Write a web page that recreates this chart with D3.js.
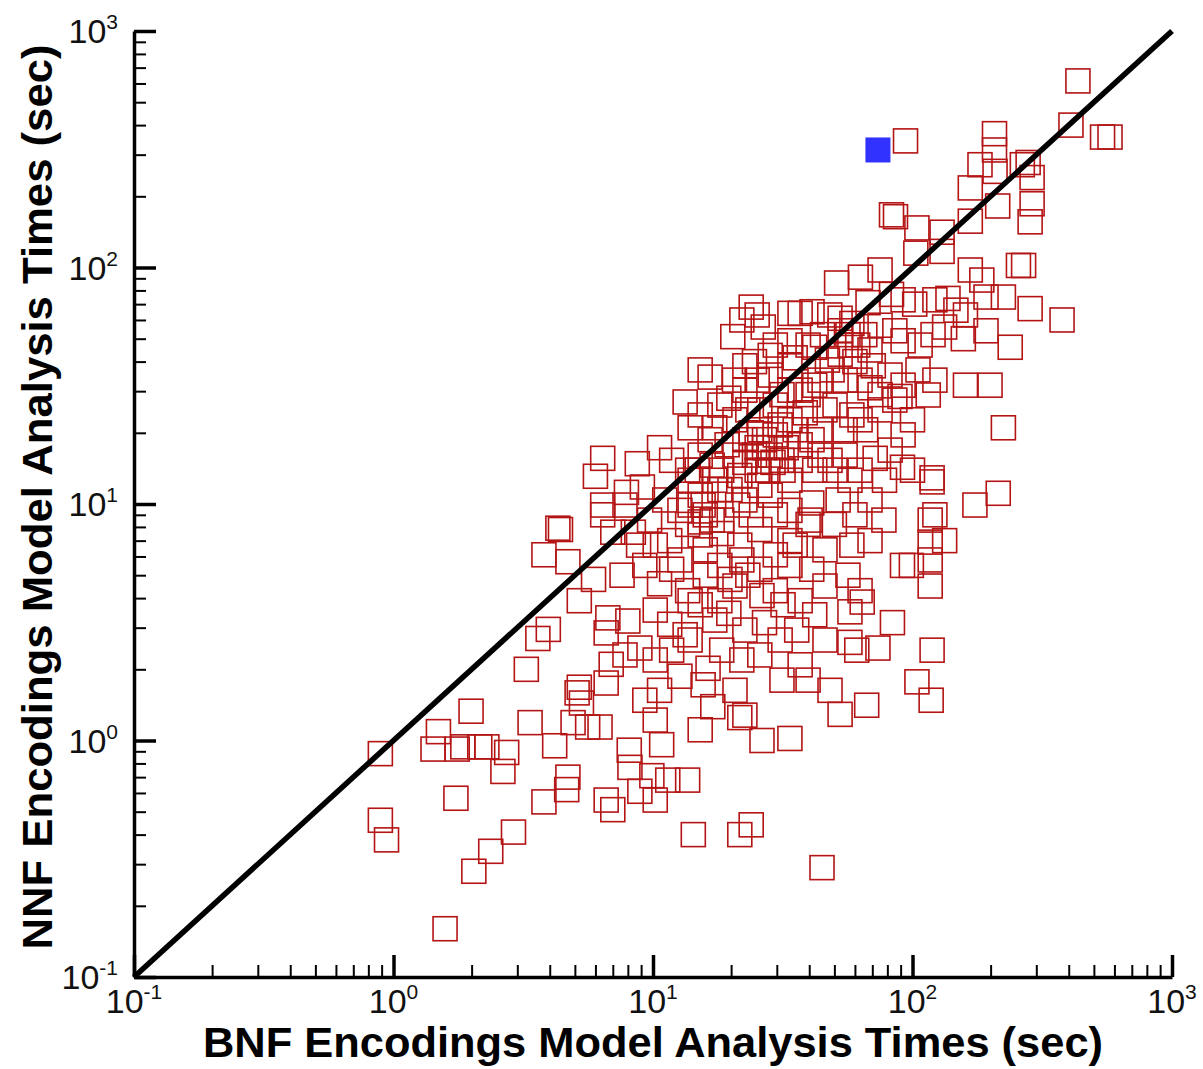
<!DOCTYPE html>
<html lang="en">
<head>
<meta charset="UTF-8">
<title>BNF vs NNF Model Analysis Times</title>
<script src="https://d3js.org/d3.v7.min.js"></script>
<style>
  body { margin: 0; background: #fff; }
  svg { display: block; font-family: "Liberation Sans", Arial, Helvetica, sans-serif; }
  .axis path, .axis line { stroke: #000; }
</style>
</head>
<body>
<div id="chart"></div>
<script>
// [BNF time, NNF time] in seconds
var times = [
  [434,615],[408,400],[540,356],[577,356],[94,343],[207,368],[207,314],[182,272],[208,255],[265,272],
  [279,278],[289,240],[167,217],[213,182],[289,186],[284,156],[86,164],[83,167],[104,147],[130,141],
  [167,157],[103,115],[130,117],[75,97.6],[63,91],[51,86],[41,65],[167,97.6],[185,88.5],[256,102],
  [268,102],[224,75],[284,67],[377,60],
  [23.9,68],[25.2,63],[33.7,64],[36.9,64],[48,63],[67.4,71],[83,77],[92,73],[102,70],[122,73],
  [137,74],[147,66],[160,63],[192,75],
  [20.3,51],[26.6,56],[22,60],[29.6,47],[33.7,49],[39.6,47],[45,52],[52.6,54],[57.4,47],[65.5,52],
  [75,57],[85.5,54],[92,49],[107,47],[120,52],[133,56],[157,50],[192,54],[238,46],
  [15.2,36.9],[16.6,34.4],[20.6,33.4],[22.6,38.4],[25.2,33.4],[28.3,35.1],[33.7,38.4],[36.9,30.3],
  [42,31.8],[49,36.9],[55,33.4],[62.8,33.4],[70.6,38.4],[81.9,35.1],[92,31.8],[105,36.9],[122,33.4],
  [160,31.8],[199,31.8],
  [13.3,27],[13.9,21],[15.2,23.8],[18.1,26.2],[20.7,22.7],[23.2,25],[25.8,20.6],[29.6,26.2],[33.7,22.7],
  [38.6,24.3],[44,20.6],[50.3,26.2],[58.4,23.8],[66,20.6],[75,25],[85.5,27.5],[100,22.7],[115,28.9],
  [224,21],
  [6.4,15.6],[8.7,14.8],[6.0,13.1],[10.6,17.3],[11.8,15.3],[13.6,13.9],[15.2,16.1],[16.9,14.6],
  [19.3,17.8],[21.6,13.2],[24.6,16.1],[27.7,13.9],[31.4,15.3],[36.9,17.8],[42,13.9],[48.1,15.3],
  [55,16.1],[62.8,13.9],[71.8,15.6],[91.5,14.3],[100,13.9],[119,12.9],
  [6.4,9.9],[6.4,9.0],[7.9,11.2],[9.1,11.8],[11.1,10.4],[12.7,9.4],[15.2,10.9],[15.9,9.0],[18.1,11.5],
  [21.2,9.9],[23.9,9.0],[28.3,10.9],[33.7,9.4],[40.9,10.1],[51.7,10.4],[77.6,8.55],[119,12.4],
  [122,9.0],[174,9.9],[214,11.1],
  [3.8,6.1],[4.3,7.9],[4.4,7.8],[7.0,7.6],[8.4,7.6],[10.2,6.7],[11.6,7.0],[13.6,8.2],[15.9,6.4],
  [18.4,7.5],[21.6,6.7],[25.8,7.8],[29.6,6.1],[33.7,7.0],[39.6,8.2],[46,6.4],[58.4,6.7],[68.6,7.0],
  [117,8.55],[117,6.9],[133,7.0],
  [4.7,5.7],[5.9,4.8],[5.2,3.9],[7.6,5.0],[9.3,5.5],[10.6,4.6],[11.8,5.3],[13.6,4.3],[15.9,5.0],
  [18.1,5.5],[20.7,4.5],[23.2,5.0],[26.3,4.1],[33.7,5.5],[40.9,5.3],[46,4.5],[56.4,5.0],[62.8,4.3],
  [91.5,5.5],[99,5.5],[117,5.8],[117,4.5],
  [6.7,3.3],[6.6,2.85],[3.6,2.7],[3.95,2.95],[8.0,3.2],[10.2,3.56],[11.6,3.1],[13.3,2.8],[15.2,3.75],
  [17.3,3.23],[19.6,3.45],[22.6,2.93],[26.9,3.15],[31.7,3.75],[35.8,2.93],[42,3.4],[57.4,3.5],
  [64,3.85],[83.7,3.15],
  [3.25,2.0],[6.9,2.1],[7.8,2.3],[8.9,2.46],[10.2,2.19],[11.8,2.41],[13.9,2.66],[16.3,2.02],[18.4,2.41],
  [22,2.19],[25.8,2.3],[30.9,2.66],[36.9,2.09],[46,2.66],[57.4,2.6],[61,2.41],[73.6,2.46],[119,2.41],
  [5.2,1.68],[6.6,1.75],[5.3,1.44],[5.1,1.59],[9.3,1.48],[10.6,1.63],[12.7,1.87],[15.6,1.72],[17,1.39],
  [20.7,1.63],[22.6,1.28],[31.4,1.8],[39.6,1.8],[48.1,1.63],[52.6,1.29],[66.6,1.41],[104,1.77],[118,1.48],
  [1.49,1.09],[1.42,0.92],[1.76,0.92],[1.85,0.94],[1.99,1.33],[2.15,0.94],[2.29,0.94],[2.73,0.89],
  [2.64,0.74],[3.36,1.19],[4.92,1.19],[5.6,1.14],[6.25,1.14],[4.18,0.95],[8.1,0.91],[10.2,1.22],
  [10.8,0.96],[15.2,1.11],[21.6,1.25],[26.3,1.0],[33.7,1.02],[0.89,0.88],
  [8.15,0.77],[9.9,0.71],[11.4,0.68],[8.9,0.61],[10.2,0.56],[13.6,0.68],[4.7,0.70],[4.65,0.62],
  [6.6,0.56],[7.0,0.51],[3.8,0.55],[1.74,0.57],[2.9,0.41],[14.3,0.40],[21.6,0.40],[23.9,0.44],
  [0.89,0.46],[0.94,0.38],[2.37,0.34],[2.04,0.28],[1.58,0.16],[44.8,0.29],
  [22.6,18.7],[23.9,20],[25.2,17.3],[26.9,18.7],[28.3,16.1],[29.6,19.6],[30.9,21.6],[32.6,17.3],
  [35.3,20.6],[25.8,25],[20.7,16.1],[18.4,13.9],[17.3,12.6],[19.8,11.5],[22.6,10.4],[25.8,12],
  [13.9,12.6],[14.8,13.9],[16.6,18.7],[17.3,21],[19.6,28],[22.6,30.3],[24.6,40],[28.3,42.5],
  [33.7,30.3],[39.6,29],[44,33.4],[47,40.6],[52.6,43],[60,40],[68.6,31],[75,29],[62.8,22.7],
  [55,20.6],[46,25],[41,18.7],[36.9,15.3],[33.7,12.6],[29.6,9.0],[18.4,8.55],[15.2,7.4],[12.7,5.8],
  [13.9,3.9],[19.8,4.8],[25.8,5.3],[29.6,4.3],[36.9,3.9],[50,8.2],[60,9.0],[68.6,10.4],[78,12.6],
  [82,16.9],[92,19.6],[89.5,28.5],
  [26.9,17.3],[29,15],[31.7,13.9],[25.2,13.9],[22.6,15],[15.6,9.9],[16.9,8.55],[15.2,8.4],[13.9,9.9],
  [56.4,52],[61.5,47],[68.6,44.8],[58.4,58],[52.6,61],[42,46],[35.3,41.5],[31.4,29],[44,16.1],
  [50.3,13.9],[57.4,12.6],[22,5.8],[18.1,3.9],[40.3,8.55],[35.3,6.7],[9.7,8.55],[8.8,6.7],[7.8,9.9]
];
// the single highlighted case
var highlight = [[73.6,314]];

var decades = [0.1, 1, 10, 100, 1000];
var exponents = ["-1", "0", "1", "2", "3"];
var xTitle = "BNF Encodings Model Analysis Times (sec)";
var yTitle = "NNF Encodings Model Analysis Times (sec)";

var width = 1203, height = 1069;
var plotLeft = 134, plotRight = 1172, plotTop = 31, plotBottom = 977;
var box = 24;

var minorTicks = [];
decades.slice(0, -1).forEach(function(d) {
  for (var k = 2; k <= 9; k++) minorTicks.push(d * k);
});

var x = d3.scaleLog().domain([0.1, 1000]).range([plotLeft, plotRight]);
var y = d3.scaleLog().domain([0.1, 1000]).range([plotBottom, plotTop]);

var svg = d3.select("#chart").append("svg")
  .attr("width", width)
  .attr("height", height);

// markers
svg.append("g")
  .selectAll("rect")
  .data(times)
  .enter().append("rect")
  .attr("x", d => x(d[0]) - box / 2)
  .attr("y", d => y(d[1]) - box / 2)
  .attr("width", box)
  .attr("height", box)
  .attr("fill", "none")
  .attr("stroke", "#b41414")
  .attr("stroke-width", 1.6);

svg.append("g")
  .selectAll("rect")
  .data(highlight)
  .enter().append("rect")
  .attr("x", d => x(d[0]) - box / 2)
  .attr("y", d => y(d[1]) - box / 2)
  .attr("width", box)
  .attr("height", box)
  .attr("fill", "#3232ff")
  .attr("stroke", "#3232ff")
  .attr("stroke-width", 1);

// y = x reference line
svg.append("path")
  .datum([0.1, 1000])
  .attr("d", d3.line().x(d => x(d)).y(d => y(d)))
  .attr("stroke", "#000")
  .attr("stroke-width", 5.5)
  .attr("fill", "none");

// axes: minor ticks, then major ticks with the axis line
svg.append("g").attr("class", "axis")
  .attr("transform", `translate(0,${plotBottom})`)
  .call(d3.axisBottom(x).tickValues(minorTicks).tickSize(-12).tickFormat(""))
  .call(g => g.select(".domain").remove())
  .selectAll("line").attr("stroke-width", 2);

svg.append("g").attr("class", "axis")
  .attr("transform", `translate(${plotLeft},0)`)
  .call(d3.axisLeft(y).tickValues(minorTicks).tickSize(-12).tickFormat(""))
  .call(g => g.select(".domain").remove())
  .selectAll("line").attr("stroke-width", 2);

var xAxis = svg.append("g").attr("class", "axis")
  .attr("transform", `translate(0,${plotBottom})`)
  .call(d3.axisBottom(x).tickValues(decades).tickSize(-22).tickSizeOuter(0).tickFormat(""));
xAxis.select(".domain").attr("stroke-width", 3.5);
xAxis.selectAll("line").attr("stroke-width", 3.5);

var yAxis = svg.append("g").attr("class", "axis")
  .attr("transform", `translate(${plotLeft},0)`)
  .call(d3.axisLeft(y).tickValues(decades).tickSize(-22).tickSizeOuter(0).tickFormat(""));
yAxis.select(".domain").attr("stroke-width", 3.5);
yAxis.selectAll("line").attr("stroke-width", 3.5);

// tick labels with superscript powers
function powerLabel(sel, i) {
  sel.append("tspan").attr("font-size", 34).text("10");
  sel.append("tspan").attr("font-size", 21).attr("dy", -14).text(exponents[i]);
}

svg.append("g")
  .selectAll("text")
  .data(decades)
  .enter().append("text")
  .attr("x", d => x(d))
  .attr("y", plotBottom + 36)
  .attr("text-anchor", "middle")
  .attr("fill", "#111")
  .each(function(d, i) { powerLabel(d3.select(this), i); });

svg.append("g")
  .selectAll("text")
  .data(decades)
  .enter().append("text")
  .attr("x", plotLeft - 16)
  .attr("y", d => y(d) + 12)
  .attr("text-anchor", "end")
  .attr("fill", "#111")
  .each(function(d, i) { powerLabel(d3.select(this), i); });

// axis titles
svg.append("text")
  .attr("x", 653)
  .attr("y", 1057)
  .attr("text-anchor", "middle")
  .attr("font-size", 42)
  .attr("font-weight", "bold")
  .attr("textLength", 900)
  .attr("lengthAdjust", "spacingAndGlyphs")
  .text(xTitle);

svg.append("text")
  .attr("transform", "translate(52,497) rotate(-90)")
  .attr("text-anchor", "middle")
  .attr("font-size", 42)
  .attr("font-weight", "bold")
  .attr("textLength", 905)
  .attr("lengthAdjust", "spacingAndGlyphs")
  .text(yTitle);
</script>
</body>
</html>
